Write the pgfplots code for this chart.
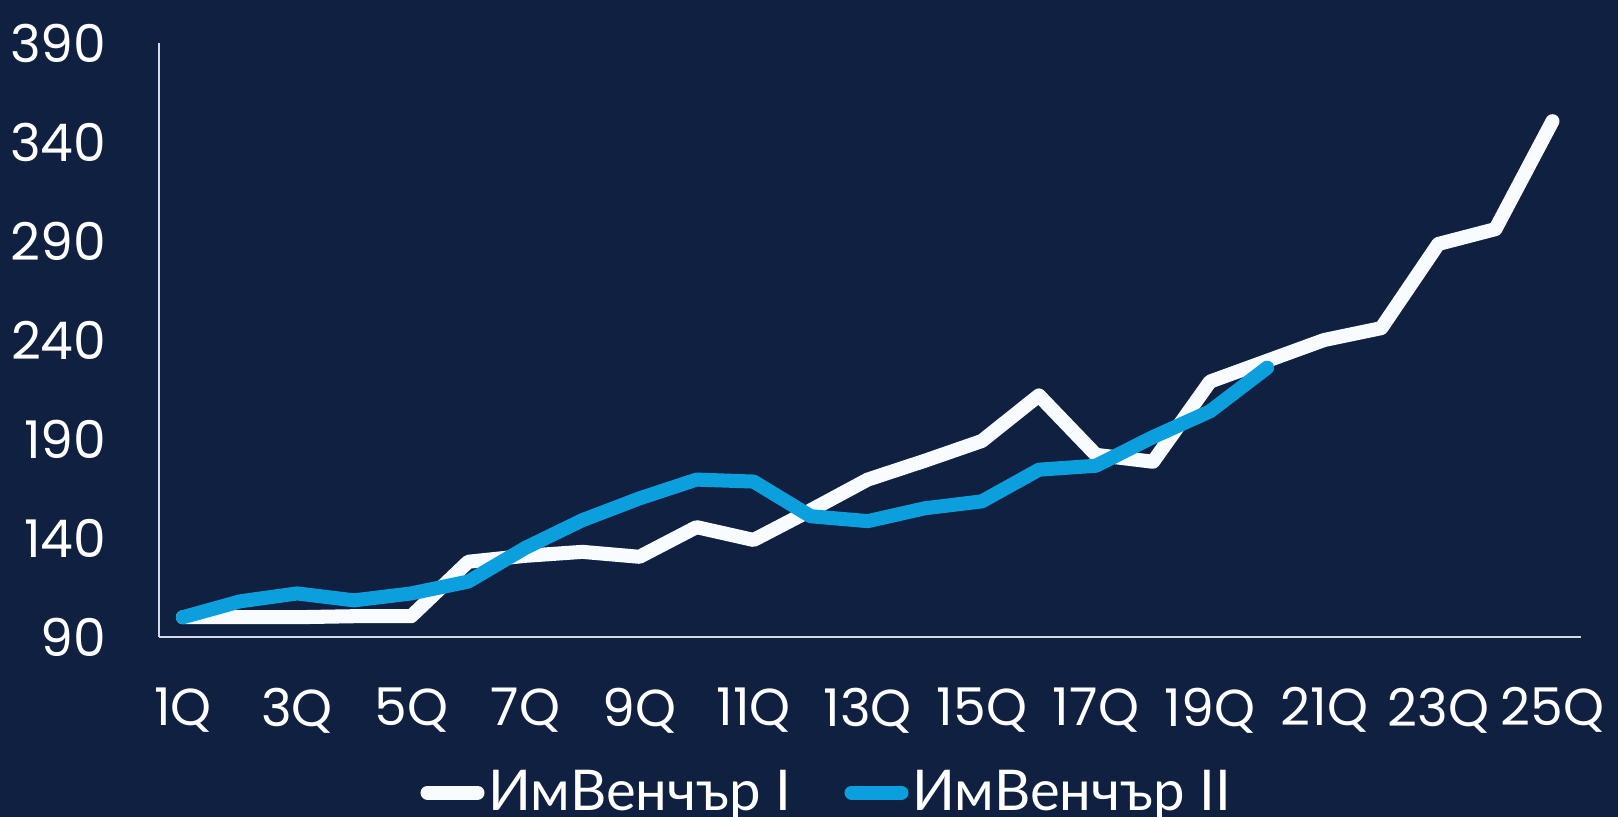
\documentclass[border=0pt]{standalone}
\usepackage{fontspec}
\setmainfont{Poppins}
\newfontfamily\legfont{Lato}
\usepackage{pgfplots}
\pgfplotsset{compat=1.18}

\definecolor{bg}{RGB}{15,32,64}
\definecolor{lineblue}{RGB}{11,159,222}
\definecolor{linewhite}{RGB}{248,251,255}
\definecolor{axisgray}{RGB}{215,218,224}

\begin{document}
\begin{tikzpicture}
\fill[bg] (0,0) rectangle (16.18cm,8.17cm);
\useasboundingbox (0,0) rectangle (16.18cm,8.17cm);
\begin{axis}[
    at={(1.59cm,1.80cm)}, anchor=south west,
    width=14.22cm, height=5.94cm, scale only axis,
    xmin=0.58, xmax=25.5,
    ymin=90, ymax=390,
    axis lines=left,
    axis line style={axisgray, line width=0.6pt, -},
    major tick length=0pt,
    xtick={1,3,...,25},
    xticklabels={1Q,3Q,5Q,7Q,9Q,11Q,13Q,15Q,17Q,19Q,21Q,23Q,25Q},
    ytick={90,140,...,390},
    /pgf/number format/assume math mode=true,
    tick label style={text=white, font=\fontsize{14.8}{18}\selectfont},
    y tick label style={anchor=east, inner sep=0pt, xshift=-0.52cm},
    x tick label style={anchor=north, inner sep=0pt, yshift=-0.5cm},
    legend style={at={(0.47,-0.262)}, anchor=center, legend columns=2,
        draw=none, fill=none, text=white,
        font=\legfont\fontsize{16}{19}\selectfont,
        nodes={inner xsep=1pt},
        /tikz/every even column/.append style={column sep=0.5cm}},
    legend image code/.code={\draw[#1, line cap=round] (0cm,0cm) -- (0.5cm,0cm);},
]
\addplot[linewhite, line width=4pt, line join=round, line cap=round] coordinates {
(1,100) (2,100) (3,100) (4,100.5) (5,100.5) (6,128) (7,131) (8,133) (9,130.5)
(10,145.5) (11,139) (12,154) (13,169.5) (14,179) (15,189) (16,212) (17,182)
(18,178.5) (19,219) (20,229.5) (21,240) (22,246) (23,288.5) (24,296) (25,350.5)
};
\addlegendentry{ИмВенчър I}
\addplot[lineblue, line width=4pt, line join=round, line cap=round] coordinates {
(1,100) (2,108) (3,112) (4,108.5) (5,112) (6,118) (7,135) (8,149) (9,160)
(10,169.5) (11,168.5) (12,151) (13,148.5) (14,155) (15,158.5) (16,174.5)
(17,176.5) (18,191) (19,204) (20,226)
};
\addlegendentry{ИмВенчър II}
\end{axis}
\end{tikzpicture}
\end{document}
